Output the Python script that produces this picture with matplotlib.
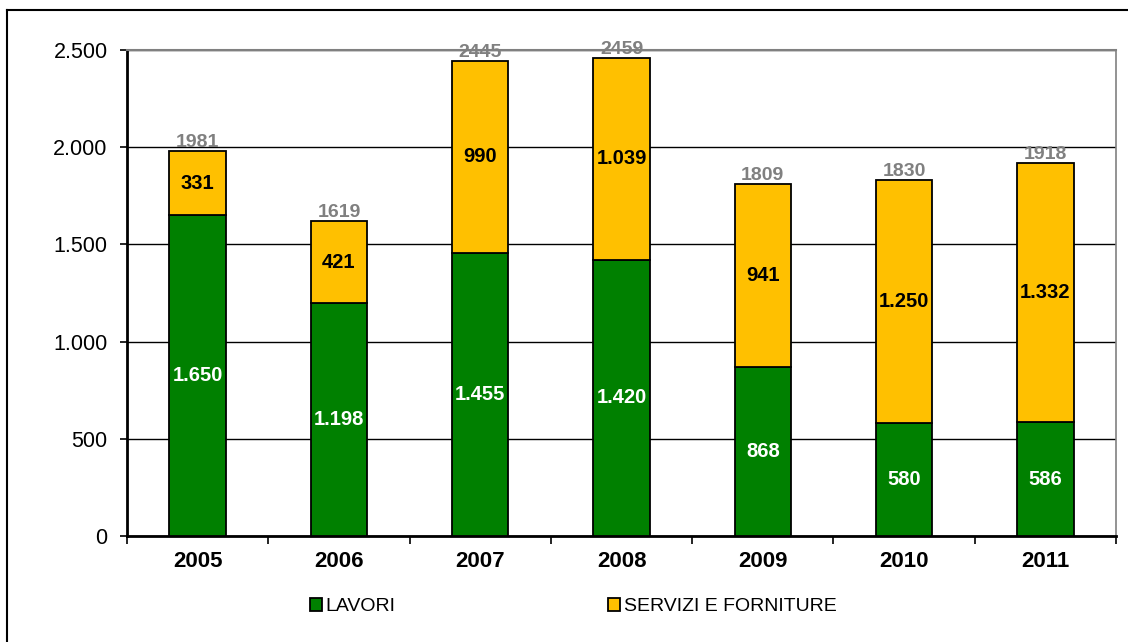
import matplotlib.pyplot as plt
from matplotlib.lines import Line2D
from matplotlib.ticker import FuncFormatter, FixedLocator
import numpy as np

plt.rcParams['font.family'] = ['Liberation Sans', 'DejaVu Sans']

anni = ['2005', '2006', '2007', '2008', '2009', '2010', '2011']
lavori = [1650, 1198, 1455, 1420, 868, 580, 586]
servizi = [331, 421, 990, 1039, 941, 1250, 1332]
totali = [1981, 1619, 2445, 2459, 1809, 1830, 1918]

verde = '#008000'
giallo = '#FFC000'


def it(v):
    return f"{int(v):,}".replace(',', '.')


fig = plt.figure(figsize=(11.28, 6.42), dpi=100)
ax = fig.add_axes([0.1126, 0.1651, 0.8768, 0.757])

x = np.arange(len(anni))
b1 = ax.bar(x, lavori, width=0.4, color=verde, edgecolor='black', linewidth=1.3,
            label='LAVORI', zorder=3)
b2 = ax.bar(x, servizi, width=0.4, bottom=lavori, color=giallo, edgecolor='black',
            linewidth=1.3, label='SERVIZI E FORNITURE', zorder=3)

ax.bar_label(b1, labels=[it(v) for v in lavori], label_type='center',
             color='white', fontsize=14.5, fontweight='bold', zorder=4)
ax.bar_label(b2, labels=[it(v) for v in servizi], label_type='center',
             color='black', fontsize=14.5, fontweight='bold', zorder=4)

for xi, t in zip(x, totali):
    ax.annotate(str(t), (xi, t), xytext=(0, 0), textcoords='offset points',
                ha='center', va='bottom', color='#808080', fontsize=14,
                fontweight='bold')

ax.set_xlim(-0.5, len(anni) - 0.5)
ax.set_ylim(0, 2500)
ax.set_yticks(np.arange(0, 2501, 500))
ax.yaxis.set_major_formatter(FuncFormatter(lambda v, p: it(v)))
ax.grid(axis='y', color='black', linewidth=1, zorder=0)

ax.set_xticks(x)
ax.set_xticklabels(anni, fontsize=16, fontweight='bold')
ax.xaxis.set_minor_locator(FixedLocator(np.arange(-0.5, len(anni), 1.0)))
ax.tick_params(axis='x', which='major', length=0, pad=11)
ax.tick_params(axis='x', which='minor', length=6, width=1.2, direction='out')
ax.tick_params(axis='y', labelsize=15.5, length=5, width=1.2, direction='out', pad=9)

ax.spines['left'].set_linewidth(2)
ax.spines['bottom'].set_linewidth(2)
ax.spines['top'].set_color('#808080')
ax.spines['right'].set_color('#808080')
ax.spines['top'].set_linewidth(1.5)
ax.spines['right'].set_linewidth(1.2)

fig.legend(handles=[b1, b2], loc='center', bbox_to_anchor=(0.508, 0.055), ncol=2,
           frameon=False, fontsize=14, handlelength=0.62, handleheight=0.62,
           handletextpad=0.2, columnspacing=10.9)

fig.add_artist(Line2D([0.0062, 1.0], [0.9844, 0.9844], color='black', linewidth=1.5,
                      transform=fig.transFigure))
fig.add_artist(Line2D([0.0062, 0.0062], [0.0, 0.9844], color='black', linewidth=1.5,
                      transform=fig.transFigure))

fig.savefig('out.png', dpi=100)
